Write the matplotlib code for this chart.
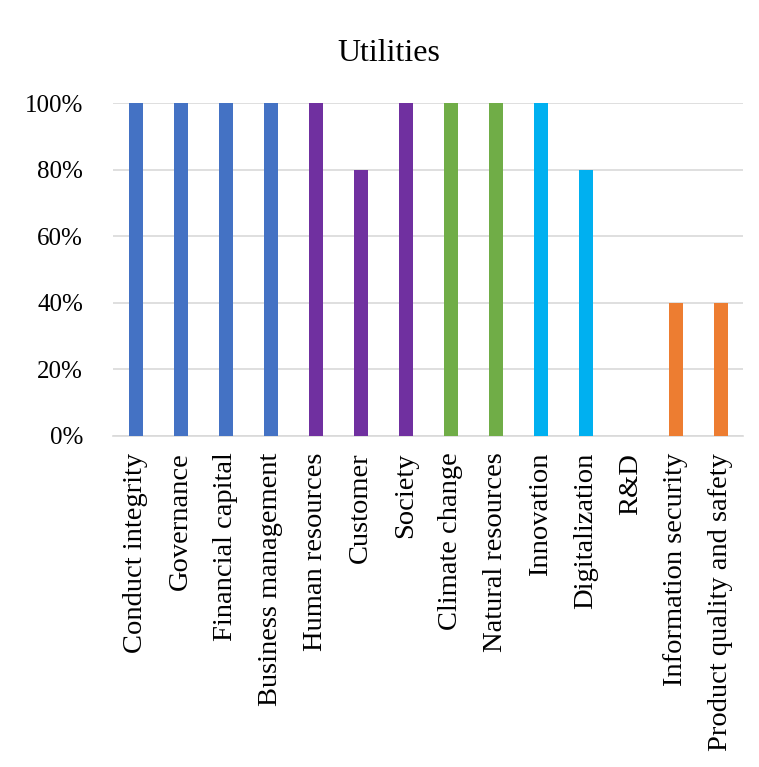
import matplotlib
matplotlib.use("Agg")
import matplotlib.pyplot as plt
from matplotlib.ticker import PercentFormatter

categories = [
    "Conduct integrity", "Governance", "Financial capital", "Business management",
    "Human resources", "Customer", "Society", "Climate change", "Natural resources",
    "Innovation", "Digitalization", "R&D", "Information security",
    "Product quality and safety",
]
shares = [1.0, 1.0, 1.0, 1.0, 1.0, 0.8, 1.0, 1.0, 1.0, 1.0, 0.8, 0.0, 0.4, 0.4]
groups = ["gov"] * 4 + ["social"] * 3 + ["env"] * 2 + ["innov"] * 2 + ["prod"] * 3
group_colors = {
    "gov": "#4472C4",
    "social": "#7030A0",
    "env": "#70AD47",
    "innov": "#00B0F0",
    "prod": "#ED7D31",
}

plt.rcParams["font.family"] = ["Liberation Serif", "DejaVu Serif"]

fig = plt.figure(figsize=(7.59, 7.67), dpi=100)
ax = fig.add_axes([0.149, 0.4316, 0.830, 0.4341])

x = range(len(categories))
ax.bar(x, shares, width=0.31, color=[group_colors[g] for g in groups], zorder=3)

ax.set_xlim(-0.5, len(categories) - 0.5)
ax.set_ylim(0, 1.0)
ax.set_yticks([0, 0.2, 0.4, 0.6, 0.8, 1.0])
ax.yaxis.set_major_formatter(PercentFormatter(1.0, decimals=0))
ax.set_xticks(list(x))
ax.set_xticklabels(categories, rotation=90, fontsize=20.5)
ax.tick_params(axis="y", labelsize=18, length=0, pad=21.5)
ax.tick_params(axis="x", length=0, pad=12)

ax.grid(axis="y", color="#D9D9D9", linewidth=1.2, zorder=0)
for side in ["top", "right", "left"]:
    ax.spines[side].set_visible(False)
ax.spines["bottom"].set_color("#D9D9D9")
ax.spines["bottom"].set_linewidth(1.2)

fig.text(0.512, 0.930, "Utilities", ha="center", va="center", fontsize=23)

fig.savefig("out.png", dpi=100, facecolor="white")
